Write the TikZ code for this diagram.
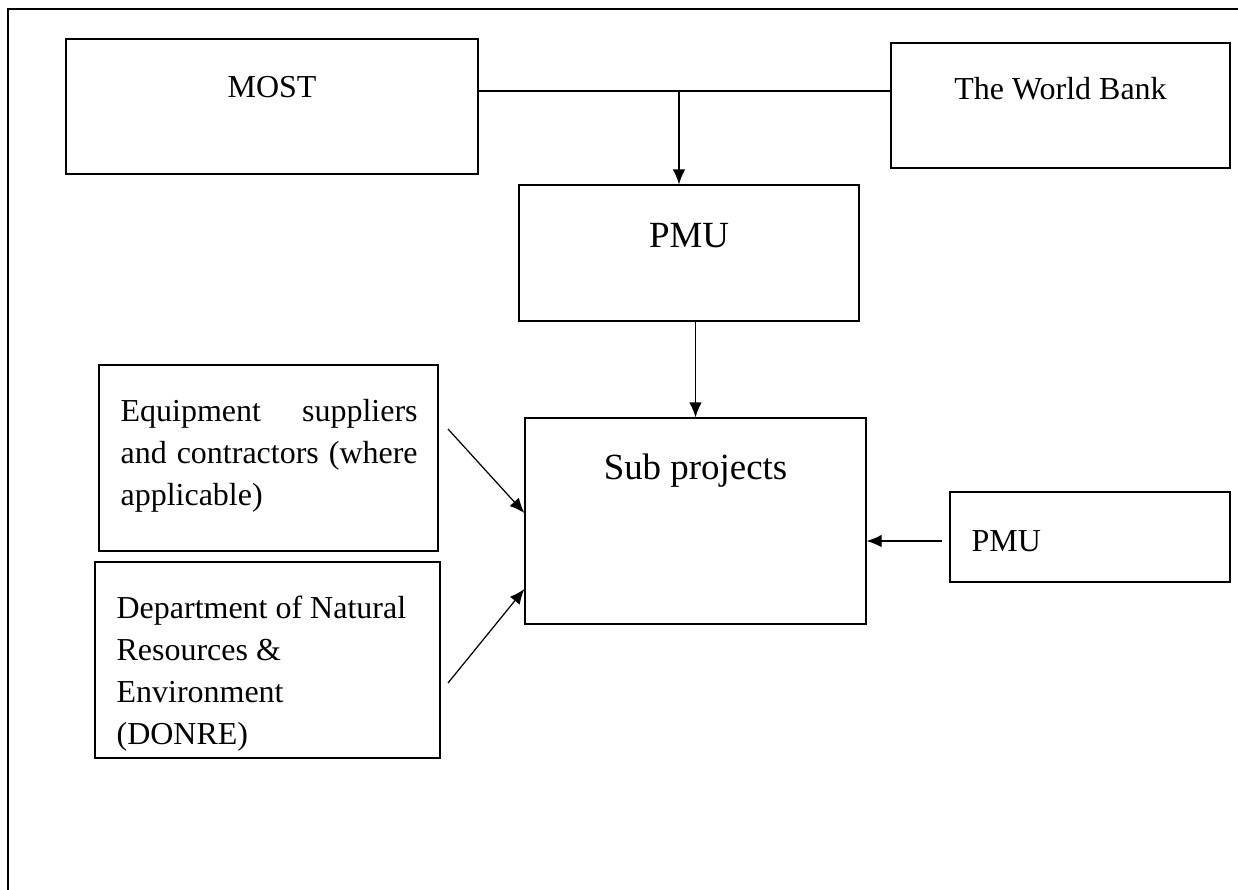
\documentclass[tikz,border=0pt]{standalone}
\usepackage{fontspec}
\setmainfont{Liberation Serif}
\usetikzlibrary{calc, positioning, arrows.meta}

\begin{document}
\begin{tikzpicture}[>={Latex[length=3mm, width=2.5mm]}, x=0.2mm, y=-0.2mm, line width=0.7pt,
    box/.style={draw, inner sep=0pt},
    lbl/.style={inner sep=0pt, font=\fontsize{18.2}{23.9}\selectfont},
    big/.style={inner sep=0pt, font=\fontsize{21}{26}\selectfont}]
    \useasboundingbox (0,0) rectangle (1238,890);
    % Khung ngoài
    \draw[line width=1.1pt] (8,890) -- (8,9) -- (1238,9);

    % Các hộp
    \node[box, minimum width=82.4mm, minimum height=27mm] (most) at (272,106.5) {};
    \node[box, minimum width=67.8mm, minimum height=25mm] (wb) at (1060.5,105.5) {};
    \node[box, minimum width=68mm, minimum height=27.2mm] (pmu) at (689,253) {};
    \node[box, minimum width=68.2mm, minimum height=41.2mm] (sub) at (695.5,521) {};
    \node[box, minimum width=67.8mm, minimum height=37.2mm] (equip) at (268.5,458) {};
    \node[box, minimum width=69mm, minimum height=39.2mm] (donre) at (267.5,660) {};
    \node[box, minimum width=56mm, minimum height=18mm] (pmu2) at (1090,537) {};

    % Chữ trong hộp
    \node[lbl, anchor=base] (most-t) at (272,97) {MOST};
    \node[lbl, anchor=base] (wb-t) at (1060.5,99) {The World Bank};
    \node[big, anchor=base] (pmu-t) at (689,247) {PMU};
    \node[big, anchor=base] (sub-t) at (695.5,479) {Sub projects};
    \node[lbl, anchor=base west] (pmu2-t) at (971,551) {PMU};
    \node[lbl, anchor=north west, text width=64mm, align=flush left] (equip-t) at (120,399)
        {\makebox[59.4mm][s]{Equipment suppliers}\\\makebox[59.4mm][s]{and contractors (where}\\applicable)};
    \node[lbl, anchor=north west, text width=64mm, align=flush left] (donre-t) at (116,595)
        {Department of Natural\\Resources \&\\Environment\\(DONRE)};

    % Các mũi tên
    \coordinate (join) at (679,91);
    \draw (most.east |- join) -- (wb.west |- join);
    \draw[->] (join) -- (join |- pmu.north);
    \draw[->] (sub.north |- pmu.south) -- (sub.north);
    \coordinate (equip-end) at (448,429);
    \draw[->] (equip-end) -- (sub.west |- 0,513);
    \coordinate (donre-end) at (448,683);
    \draw[->] (donre-end) -- (sub.west |- 0,589);
    \coordinate (pmu2-end) at (942,541);
    \draw[->] (pmu2-end) -- (sub.east |- pmu2-end);
\end{tikzpicture}
\end{document}
